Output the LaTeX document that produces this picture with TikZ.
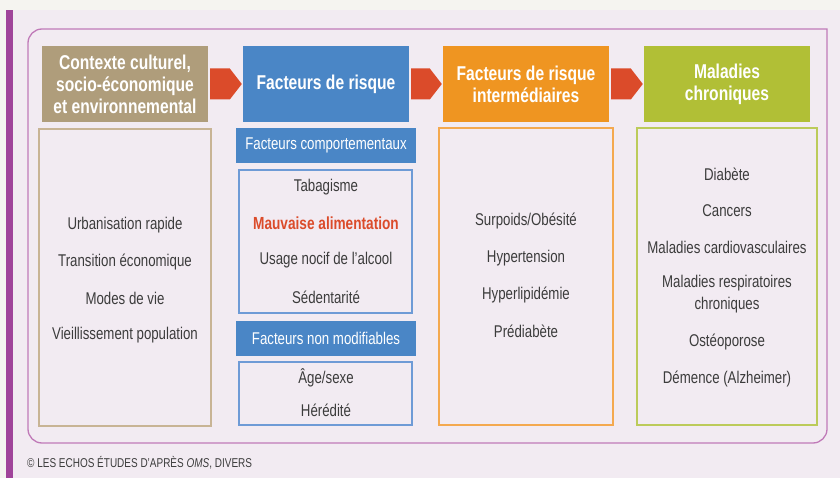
\documentclass[tikz,border=0pt]{standalone}
\usepackage{fontspec}
\setmainfont{Liberation Sans}[FakeStretch=0.78]
\usetikzlibrary{positioning,calc}

\definecolor{pagebg}{HTML}{F5F4F0}
\definecolor{lavender}{HTML}{F2EBF2}
\definecolor{barpurple}{HTML}{A0449A}
\definecolor{framepurple}{HTML}{C07AB8}
\definecolor{ctxbrown}{HTML}{AF9D7B}
\definecolor{riskblue}{HTML}{4A86C6}
\definecolor{interorange}{HTML}{EF9521}
\definecolor{malgreen}{HTML}{B1BF36}
\definecolor{linkred}{HTML}{DB4B2A}
\definecolor{textgray}{HTML}{3C3C3C}
\definecolor{ctxline}{HTML}{C8B495}
\definecolor{blueline}{HTML}{6E9BD6}
\definecolor{orangeline}{HTML}{F4A94F}
\definecolor{greenline}{HTML}{BCCB5A}

\tikzset{
  head/.style={fill=#1, text=white, inner sep=0pt, minimum width=166pt,
    minimum height=76pt, align=center, font=\bfseries\fontsize{20}{22}\selectfont},
  subhead/.style={fill=riskblue, text=white, inner sep=0pt, minimum width=180pt,
    minimum height=35pt, font=\fontsize{17}{19}\selectfont},
  panel/.style={draw=#1, line width=1.3pt, inner sep=0pt},
  item/.style={text=textgray, align=center, font=\fontsize{17}{22}\selectfont},
  link/.style={fill=linkred}
}

\begin{document}
\begin{tikzpicture}[x=1pt, y=-1pt]
    % Background
    \fill[pagebg] (0,0) rectangle (840,478);
    \fill[lavender] (13,10) rectangle (840,478);
    \fill[barpurple] (6,10) rectangle (13,478);
    \useasboundingbox (0,0) rectangle (840,478);

    % Outer frame
    \draw[framepurple, line width=1.3pt, line cap=rect, rounded corners=14pt]
      (827,29) -- (827,443) -- (28,443) -- (28,29) -- (827,29);

    % Headers
    \node[head=ctxbrown] (ctx) at (125,84) {Contexte culturel,\\socio-économique\\et environnemental};
    \node[head=riskblue] (risk) at (326,84) {Facteurs de risque};
    \node[head=interorange] (inter) at (526,84) {Facteurs de risque\\intermédiaires};
    \node[head=malgreen] (malad) at (727,84) {Maladies\\chroniques};

    % Arrows between headers
    \foreach \a/\b in {ctx/risk, risk/inter, inter/malad}
      \fill[link] ($(\a.east)+(2,-15.5)$) -- ($(\b.west)+(-13,-15.5)$)
        -- ($(\b.west)+(-1,0)$) -- ($(\b.west)+(-13,15.5)$)
        -- ($(\a.east)+(2,15.5)$) -- cycle;

    % Panels
    \node[panel=ctxline, minimum width=172pt, minimum height=297pt] (ctxbox) at (125,277.5) {};
    \node[panel=orangeline, minimum width=174pt, minimum height=297pt] (interbox) at (526,276.5) {};
    \node[panel=greenline, minimum width=180pt, minimum height=297pt] (maladbox) at (727,276.5) {};
    \node[subhead] (comport) at (326,145.5) {Facteurs comportementaux};
    \node[panel=blueline, minimum width=173pt, minimum height=143pt] (comportbox) at (325.5,241.5) {};
    \node[subhead] (nonmod) at (326,338.5) {Facteurs non modifiables};
    \node[panel=blueline, minimum width=173pt, minimum height=63pt] (nonmodbox) at (325.5,393.5) {};

    % Items
    \foreach \y/\t [count=\i] in {225/Urbanisation rapide, 262/Transition économique,
        298/Modes de vie, 335/Vieillissement population}
      \node[item] (ctx\i) at (125,\y) {\t};
    \node[item] (tabac) at (326,187) {Tabagisme};
    \node[item, text=linkred, font=\bfseries\fontsize{17.5}{20}\selectfont] (alim) at (326,223) {Mauvaise alimentation};
    \node[item] (alcool) at (326,260) {Usage nocif de l’alcool};
    \node[item] (sedent) at (326,297) {Sédentarité};
    \node[item] (age) at (326,378) {Âge/sexe};
    \node[item] (hered) at (326,410) {Hérédité};
    \foreach \y/\t [count=\i] in {221/{Surpoids/Obésité}, 258/Hypertension,
        295/Hyperlipidémie, 331/Prédiabète}
      \node[item] (inter\i) at (526,\y) {\t};
    \foreach \y/\t [count=\i] in {174/Diabète, 211/Cancers, 247/Maladies cardiovasculaires,
        294/{Maladies respiratoires\\chroniques}, 342/Ostéoporose, 379/Démence (Alzheimer)}
      \node[item] (malad\i) at (727,\y) {\t};

    % Source
    \node[anchor=west, inner sep=0pt, text=textgray, font=\fontsize{12.8}{14}\selectfont] (source)
      at (27,463) {© LES ECHOS ÉTUDES D’APRÈS \textit{OMS}, DIVERS};
\end{tikzpicture}
\end{document}
